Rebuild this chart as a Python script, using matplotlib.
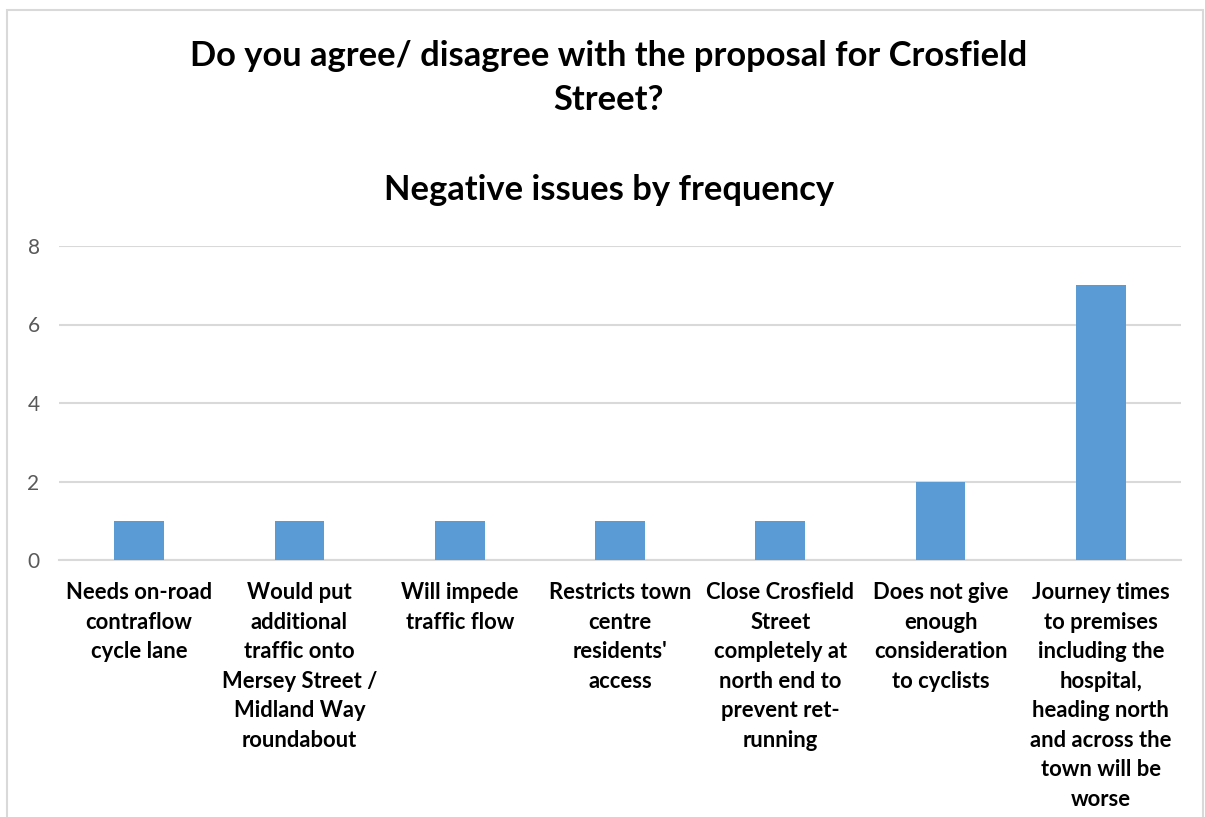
import matplotlib
matplotlib.use("Agg")
import matplotlib.pyplot as plt
from matplotlib.patches import Rectangle

categories = [
    "Needs on-road\ncontraflow\ncycle lane",
    "Would put\nadditional\ntraffic onto\nMersey Street /\nMidland Way\nroundabout",
    "Will impede\ntraffic flow",
    "Restricts town\ncentre\nresidents'\naccess",
    "Close Crosfield\nStreet\ncompletely at\nnorth end to\nprevent ret-\nrunning",
    "Does not give\nenough\nconsideration\nto cyclists",
    "Journey times\nto premises\nincluding the\nhospital,\nheading north\nand across the\ntown will be\nworse",
]
counts = [1, 1, 1, 1, 1, 2, 7]
yticks = [0, 2, 4, 6, 8]

title = "Do you agree/ disagree with the proposal for Crosfield\nStreet?"
subtitle = "Negative issues by frequency"

plt.rcParams["font.family"] = ["Lato", "DejaVu Sans"]

fig = plt.figure(figsize=(12.05, 8.17), dpi=100)
fig.patch.set_facecolor("white")
fig.add_artist(Rectangle((7 / 1205, -0.01), (1203 - 7) / 1205, 1 - 10 / 817 + 0.01,
                         transform=fig.transFigure, fill=False,
                         edgecolor="#D9D9D9", linewidth=1.5))

ax = fig.add_axes([59 / 1205, 1 - 560 / 817, (1181 - 59) / 1205, (560 - 246) / 817])
x = range(len(categories))
ax.bar(x, counts, width=0.31, color="#5B9BD5", zorder=3)
ax.set_xlim(-0.5, len(categories) - 0.5)
ax.set_ylim(0, 8)
ax.set_yticks(yticks)
ax.set_yticklabels([str(v) for v in yticks])
ax.set_xticks(list(x))
ax.set_xticklabels(categories, fontweight="bold", fontsize=15.8, color="black",
                   linespacing=1.5, va="top")
ax.tick_params(axis="x", length=0, pad=16)
ax.tick_params(axis="y", length=0, pad=14, labelsize=15, labelcolor="#595959")
ax.grid(axis="y", color="#D9D9D9", linewidth=1.5, zorder=0)
for side in ["top", "right", "left"]:
    ax.spines[side].set_visible(False)
ax.spines["bottom"].set_color("#D9D9D9")
ax.spines["bottom"].set_linewidth(1.5)

fig.text(609 / 1205, 1 - 78 / 817, title, ha="center", va="center",
         fontsize=24.8, fontweight="bold", linespacing=1.45)
fig.text(609 / 1205, 1 - 190 / 817, subtitle, ha="center", va="center",
         fontsize=24.8, fontweight="bold")

fig.savefig("out.png", dpi=100)
